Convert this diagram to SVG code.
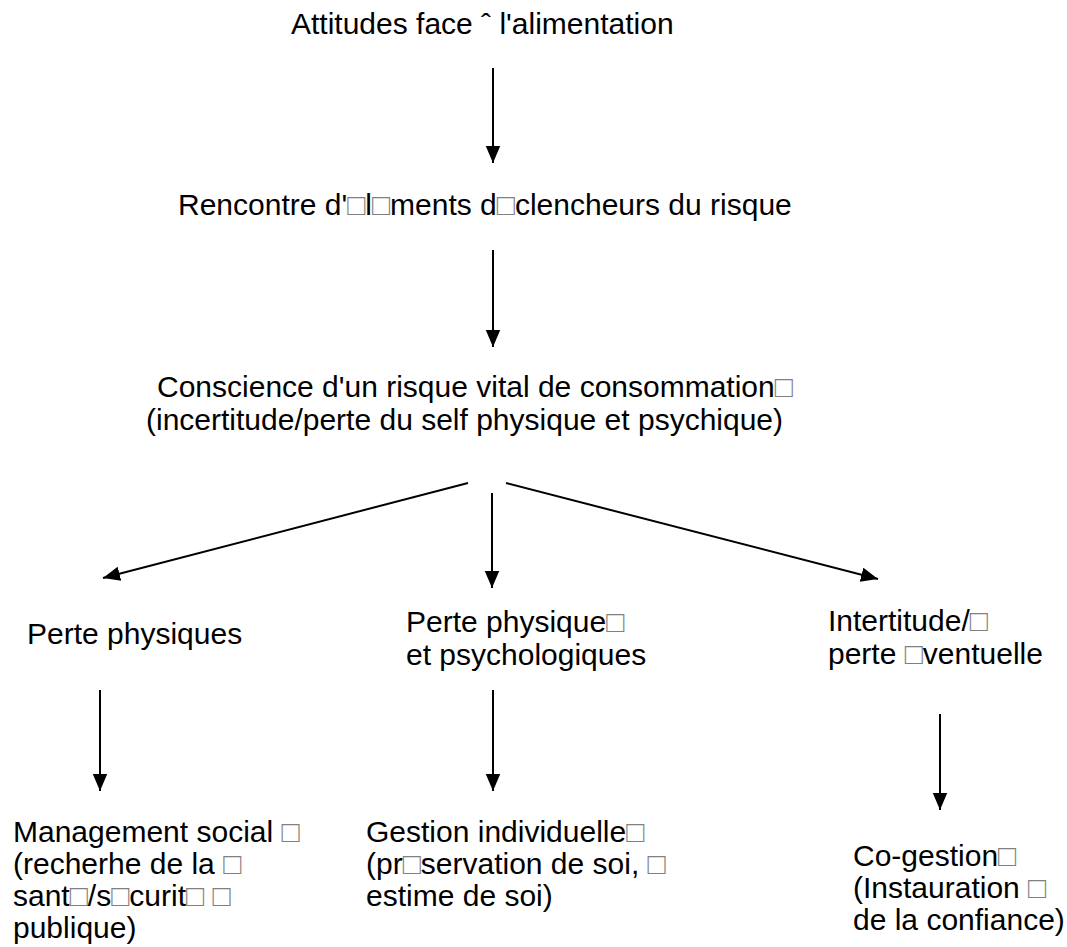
<svg xmlns="http://www.w3.org/2000/svg" width="1067" height="947" viewBox="0 0 1067 947">
<defs>
<style>
text{font-family:"Liberation Sans",Arial,sans-serif;font-size:30px;fill:#000}
.b{fill:#808080}
.c line{stroke:#000;stroke-width:2;fill:none;marker-end:url(#ah)}
</style>
<marker id="ah" markerWidth="17" markerHeight="20" refX="20" refY="8.5" orient="auto" markerUnits="userSpaceOnUse" viewBox="0 0 20 17">
<path d="M0,0 L20,8.5 L0,17 z" fill="#000"/>
</marker>
</defs>
<rect width="1067" height="947" fill="#fff"/>
<g id="n1"><text x="291" y="34">Attitudes face ˆ l'alimentation</text></g>
<g id="n2"><text x="178" y="215">Rencontre d'<tspan class="b">□</tspan>l<tspan class="b">□</tspan>ments d<tspan class="b">□</tspan>clencheurs du risque</text></g>
<g id="n3"><text x="157" y="397">Conscience d'un risque vital de consommation<tspan class="b">□</tspan></text><text x="146" y="430">(incertitude/perte du self physique et psychique)</text></g>
<g id="n4"><text x="27" y="644">Perte physiques</text></g>
<g id="n5"><text x="406" y="632">Perte physique<tspan class="b">□</tspan></text><text x="406" y="665">et psychologiques</text></g>
<g id="n6"><text x="828" y="631">Intertitude/<tspan class="b">□</tspan></text><text x="828" y="664">perte <tspan class="b">□</tspan>ventuelle</text></g>
<g id="n7"><text x="13" y="842">Management social <tspan class="b">□</tspan></text><text x="13" y="874">(recherhe de la <tspan class="b">□</tspan></text><text x="13" y="906">sant<tspan class="b">□</tspan>/s<tspan class="b">□</tspan>curit<tspan class="b">□</tspan> <tspan class="b">□</tspan></text><text x="13" y="938">publique)</text></g>
<g id="n8"><text x="366" y="842">Gestion individuelle<tspan class="b">□</tspan></text><text x="366" y="874">(pr<tspan class="b">□</tspan>servation de soi, <tspan class="b">□</tspan></text><text x="366" y="906">estime de soi)</text></g>
<g id="n9"><text x="853" y="866">Co-gestion<tspan class="b">□</tspan></text><text x="853" y="898">(Instauration <tspan class="b">□</tspan></text><text x="853" y="930">de la confiance)</text></g>
<g id="connectors" class="c">
<line x1="493" y1="68" x2="493" y2="163"/>
<line x1="493" y1="250" x2="493" y2="347"/>
<line x1="468" y1="483" x2="103" y2="578"/>
<line x1="492" y1="493" x2="492" y2="588"/>
<line x1="506" y1="483" x2="878" y2="579"/>
<line x1="100" y1="690" x2="100" y2="791"/>
<line x1="493" y1="690" x2="493" y2="791"/>
<line x1="940" y1="714" x2="940" y2="810"/>
</g>
</svg>
